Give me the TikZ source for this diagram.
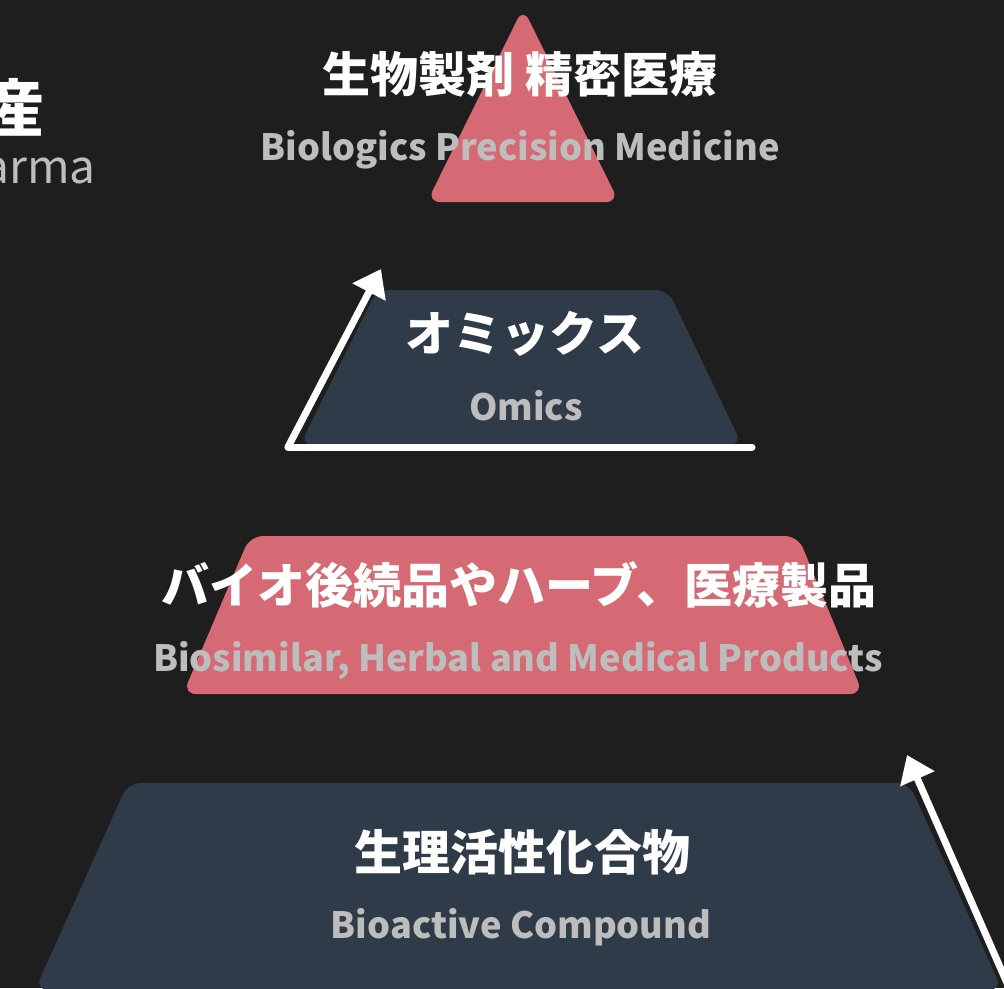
\documentclass[tikz,border=0pt]{standalone}
\usepackage{fontspec}
\setmainfont{Noto Sans CJK JP}
\usetikzlibrary{arrows.meta}
\definecolor{bg}{HTML}{1E1E1E}
\definecolor{pinkred}{HTML}{D56A74}
\definecolor{slate}{HTML}{2F3B48}
\definecolor{graytxt}{HTML}{BDBDBD}
\begin{document}
\begin{tikzpicture}[x=1pt,y=-1pt,
  jp/.style={text=white, font=\fontsize{48}{48}\selectfont\bfseries, anchor=base, inner sep=0pt},
  en/.style={text=graytxt, font=\fontsize{36.2}{36.2}\selectfont\bfseries, anchor=base, inner sep=0pt},
  tier/.style={rounded corners=13pt},
  axisline/.style={white, line width=7pt, line cap=round},
  axisarrow/.style={axisline, -{Triangle[length=26pt,width=36pt]}}]
\clip (0,0) rectangle (1004,988);
\fill[bg] (0,0) rectangle (1004,988);
% tiers
\fill[pinkred, tier] (523,202) -- (619,202) -- (523,8) -- (427,202) -- cycle;
\fill[slate, tier] (523,445) -- (742,445) -- (668,290) -- (377,290) -- (300,445) -- cycle;
\fill[pinkred, tier] (523,694) -- (863,694) -- (798,536) -- (250,536) -- (183,694) -- cycle;
\fill[slate, tier] (520,990) -- (1002,990) -- (909,783) -- (128,783) -- (35,990) -- cycle;
% axes
\coordinate (o) at (288,447);
\coordinate (xend) at (752,447);
\coordinate (ytip) at (381,269);
\coordinate (r0) at (1018,1008);
\coordinate (r1) at (907,755);
\draw[axisline] (o) -- (xend);
\draw[axisarrow] (o) -- (ytip);
\draw[axisarrow] (r0) -- (r1);
% texts
\node[text=white, font=\fontsize{62}{62}\selectfont\bfseries, anchor=base east, inner sep=0pt] (h1) at (45,131) {産};
\node[text=graytxt, font=\fontsize{46}{46}\selectfont, anchor=base east, inner sep=0pt] (h2) at (96,183) {arma};
\node[jp] (t1) at (520,92) {生物製剤 精密医療};
\node[en] (t1e) at (520,160) {Biologics Precision Medicine};
\node[jp] (t2) at (525,351) {オミックス};
\node[en] (t2e) at (526,420) {Omics};
\node[jp] (t3) at (519,603) {バイオ後続品やハーブ、医療製品};
\node[en] (t3e) at (518,671) {Biosimilar, Herbal and Medical Products};
\node[jp] (t4) at (522,870) {生理活性化合物};
\node[en] (t4e) at (521,938) {Bioactive Compound};
\end{tikzpicture}
\end{document}
